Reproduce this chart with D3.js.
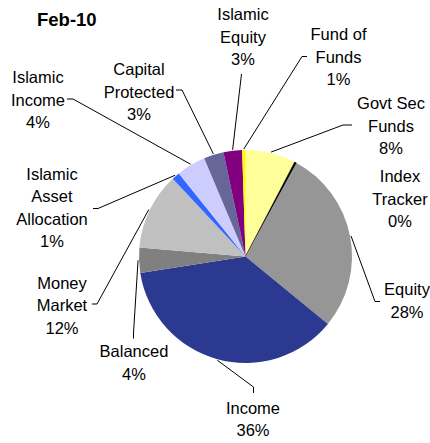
<!DOCTYPE html>
<html>
<head>
<meta charset="utf-8">
<script src="https://cdn.jsdelivr.net/npm/d3@7"></script>
<style>
  body { margin: 0; background: #fff; }
  text { font-family: Arial, "Liberation Sans", sans-serif; fill: #000; }
</style>
</head>
<body>
<div id="chart"></div>
<script>
// clockwise from 12 o'clock
const categories = ["Govt Sec\nFunds", "Index\nTracker", "Equity", "Income", "Balanced",
  "Money\nMarket", "Islamic\nAsset\nAllocation", "Islamic\nIncome", "Capital\nProtected",
  "Islamic\nEquity", "Fund of\nFunds"];
const shares = [7.6, 0.3, 27.8, 36.4, 3.8, 11.6, 1.2, 4.4, 3.0, 2.8, 0.5];
const colors = ["#ffff99", "#000000", "#969696", "#2b3990", "#808080",
  "#c0c0c0", "#3366ff", "#ccccff", "#666699", "#800080", "#ffff00"];
const title = "Feb-10";

// label placement (first baseline) and leader start segment
const labelLayout = {
  "Govt Sec\nFunds": { x: 391, y: 109, lead: [[352, 125], [343, 125]] },
  "Index\nTracker": { x: 400, y: 182, lead: null },
  "Equity": { x: 407, y: 295, lead: [[380, 301.5], [375, 301.5]] },
  "Income": { x: 253, y: 413.5, lead: [[253.5, 393], [253.5, 387]] },
  "Balanced": { x: 134, y: 357, lead: [[133.5, 338.5], [133.5, 333]] },
  "Money\nMarket": { x: 62, y: 288.5, lead: [[92, 304], [97, 304]] },
  "Islamic\nAsset\nAllocation": { x: 52, y: 179.5, lead: [[93, 208.5], [98, 208.5]] },
  "Islamic\nIncome": { x: 38, y: 83, lead: [[67, 99], [73, 99]] },
  "Capital\nProtected": { x: 139, y: 75, lead: [[176, 90], [182, 90]] },
  "Islamic\nEquity": { x: 243, y: 20, lead: [[241.5, 74]] },
  "Fund of\nFunds": { x: 338.5, y: 40, lead: [[307, 56.5], [302, 56.5]] }
};

const W = 430, H = 443;
const cx = 245.5, cy = 256.5, r = 106.5;
const lineH = 22.5;

const svg = d3.select("#chart").append("svg")
  .attr("width", W).attr("height", H);

svg.append("text")
  .attr("x", 37).attr("y", 26)
  .style("font-size", "18.5px")
  .style("font-weight", "bold")
  .text(title);

const data = categories.map((c, i) => ({ name: c, value: shares[i], color: colors[i] }));

const pie = d3.pie().sort(null).value(d => d.value).startAngle(0).endAngle(2 * Math.PI);
const arcs = pie(data);

const arc = d3.arc().innerRadius(0).outerRadius(r);
const edge = d3.arc().innerRadius(r + 1).outerRadius(r + 1);

const g = svg.append("g").attr("transform", `translate(${cx},${cy})`);

g.selectAll("path.slice")
  .data(arcs)
  .enter()
  .append("path")
  .attr("class", "slice")
  .attr("d", arc)
  .attr("fill", d => d.data.color)
  .attr("stroke", d => d.data.name === "Index\nTracker" ? "#000" : "none")
  .attr("stroke-width", 0.6);

// leader lines
const line = d3.line();
arcs.forEach(d => {
  const lay = labelLayout[d.data.name];
  if (!lay.lead) return;
  const p = edge.centroid(d);
  const pts = lay.lead.concat([[p[0] + cx, p[1] + cy]]);
  svg.append("path")
    .attr("d", line(pts))
    .attr("fill", "none")
    .attr("stroke", "#000")
    .attr("stroke-width", 1);
});

// labels
arcs.forEach(d => {
  const lay = labelLayout[d.data.name];
  const lines = d.data.name.split("\n").concat([Math.round(d.data.value) + "%"]);
  const t = svg.append("text")
    .attr("text-anchor", "middle")
    .style("font-size", "16.5px");
  lines.forEach((s, i) => {
    t.append("tspan")
      .attr("x", lay.x)
      .attr("y", lay.y + i * lineH)
      .text(s);
  });
});
</script>
</body>
</html>
